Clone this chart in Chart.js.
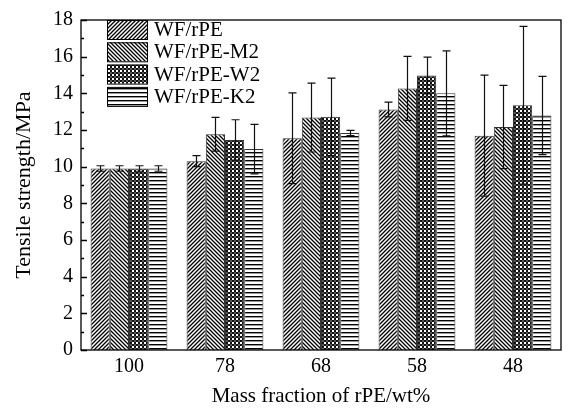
<!DOCTYPE html>
<html>
<head>
<meta charset="utf-8">
<script src="https://cdn.jsdelivr.net/npm/chart.js@4.4.1/dist/chart.umd.min.js"></script>
<style>
    html, body { margin: 0; padding: 0; background: #fff; }
    #wrap { width: 570px; height: 409px; }
</style>
</head>
<body>
<div id="wrap"><canvas id="tensileChart" width="570" height="409"></canvas></div>
<script>
const categories = ['100', '78', '68', '58', '48'];
const seriesNames = ['WF/rPE', 'WF/rPE-M2', 'WF/rPE-W2', 'WF/rPE-K2'];

const wfRpe = [9.9, 10.3, 11.55, 13.12, 11.69];
const wfRpeM2 = [9.9, 11.77, 12.68, 14.27, 12.16];
const wfRpeW2 = [9.9, 11.46, 12.72, 14.97, 13.35];
const wfRpeK2 = [9.9, 10.96, 11.84, 14.0, 12.79];

const wfRpeErr = [0.15, 0.3, 2.47, 0.4, 3.3];
const wfRpeM2Err = [0.15, 0.92, 1.88, 1.75, 2.27];
const wfRpeW2Err = [0.15, 1.1, 2.11, 1.0, 4.3];
const wfRpeK2Err = [0.15, 1.35, 0.14, 2.32, 2.13];

const yTicks = [0, 2, 4, 6, 8, 10, 12, 14, 16, 18];

const serif = "'Liberation Serif', 'DejaVu Serif', serif";

// hatch fills
function makePattern(kind) {
    const c = document.createElement('canvas');
    c.width = 4;
    c.height = 4;
    const g = c.getContext('2d');
    g.fillStyle = '#fff';
    g.fillRect(0, 0, 4, 4);
    g.strokeStyle = '#000';
    g.fillStyle = '#000';
    g.lineWidth = 1.3;
    if (kind === 'fwd') {
        g.beginPath();
        g.moveTo(-1, 5); g.lineTo(5, -1);
        g.moveTo(-1, 1); g.lineTo(1, -1);
        g.moveTo(3, 5); g.lineTo(5, 3);
        g.stroke();
    } else if (kind === 'back') {
        g.beginPath();
        g.moveTo(-1, -1); g.lineTo(5, 5);
        g.moveTo(3, -1); g.lineTo(5, 1);
        g.moveTo(-1, 3); g.lineTo(1, 5);
        g.stroke();
    } else if (kind === 'dots') {
        g.fillStyle = '#111';
        g.fillRect(0, 0, 2, 2);
        g.fillRect(2, 2, 2, 2);
        g.fillStyle = '#555';
        g.fillRect(2, 0, 2, 2);
    } else {
        g.fillRect(0, 0, 4, 1.4);
    }
    return g.createPattern(c, 'repeat');
}

const errorSets = [wfRpeErr, wfRpeM2Err, wfRpeW2Err, wfRpeK2Err];

const errorBarPlugin = {
    id: 'errorBars',
    afterDatasetsDraw(chart) {
        const ctx = chart.ctx;
        const y = chart.scales.y;
        ctx.save();
        ctx.strokeStyle = '#111';
        ctx.lineWidth = 1.2;
        chart.data.datasets.forEach((ds, i) => {
            const meta = chart.getDatasetMeta(i);
            meta.data.forEach((bar, j) => {
                const v = ds.data[j];
                const e = errorSets[i][j];
                const yt = y.getPixelForValue(v + e);
                const yb = y.getPixelForValue(v - e);
                const x = Math.round(bar.x) + 0.5;
                ctx.beginPath();
                ctx.moveTo(x, yt); ctx.lineTo(x, yb);
                ctx.moveTo(x - 4, yt); ctx.lineTo(x + 4, yt);
                ctx.moveTo(x - 4, yb); ctx.lineTo(x + 4, yb);
                ctx.stroke();
            });
        });
        ctx.restore();
    }
};

const frameAndLegendPlugin = {
    id: 'frameAndLegend',
    afterDraw(chart) {
        const ctx = chart.ctx;
        const a = chart.chartArea;
        const y = chart.scales.y;
        ctx.save();
        ctx.strokeStyle = '#000';
        ctx.lineWidth = 1.3;
        ctx.strokeRect(a.left, a.top, a.right - a.left, a.bottom - a.top);
        // inward ticks on the left axis
        ctx.beginPath();
        for (let v = 0; v <= 18; v++) {
            const py = Math.round(y.getPixelForValue(v)) + 0.5;
            const len = v % 2 === 0 ? 6 : 3;
            ctx.moveTo(a.left, py);
            ctx.lineTo(a.left + len, py);
        }
        ctx.stroke();

        // legend inside plot
        const lx = 107, ly = 20, bw = 40, bh = 19, gap = 22.3;
        ctx.font = '21px ' + serif;
        ctx.textBaseline = 'middle';
        ctx.textAlign = 'left';
        chart.data.datasets.forEach((ds, i) => {
            const top = ly + i * gap;
            ctx.fillStyle = ds.backgroundColor;
            ctx.fillRect(lx, top, bw, bh);
            ctx.lineWidth = 1;
            ctx.strokeStyle = '#000';
            ctx.strokeRect(lx + 0.5, top + 0.5, bw, bh);
            ctx.fillStyle = '#000';
            ctx.fillText(ds.label, lx + 47, top + bh / 2 + 1);
        });
        ctx.restore();
    }
};

const seriesValues = [wfRpe, wfRpeM2, wfRpeW2, wfRpeK2];
const fills = ['fwd', 'back', 'dots', 'horiz'];

new Chart(document.getElementById('tensileChart'), {
    type: 'bar',
    data: {
        labels: categories,
        datasets: seriesValues.map((vals, i) => ({
            label: seriesNames[i],
            data: vals,
            backgroundColor: makePattern(fills[i]),
            borderColor: '#333',
            borderWidth: 1,
            categoryPercentage: 0.8,
            barPercentage: 1.0
        }))
    },
    options: {
        responsive: false,
        animation: false,
        layout: { padding: { top: 17, right: 9, left: 0, bottom: 0 } },
        plugins: {
            legend: { display: false },
            tooltip: { enabled: false }
        },
        scales: {
            x: {
                grid: { display: false, drawTicks: false },
                border: { display: false },
                ticks: {
                    color: '#000',
                    padding: 5,
                    font: { family: serif, size: 20 }
                },
                title: {
                    display: true,
                    text: 'Mass fraction of rPE/wt%',
                    color: '#000',
                    font: { family: serif, size: 21 },
                    padding: { top: 9, bottom: 0 }
                },
                afterFit(scale) { scale.height = 59; }
            },
            y: {
                min: 0,
                max: 18,
                afterBuildTicks(scale) {
                    scale.ticks = yTicks.map(v => ({ value: v }));
                },
                grid: { display: false, drawTicks: false },
                border: { display: false },
                ticks: {
                    color: '#000',
                    padding: 8,
                    font: { family: serif, size: 20 }
                },
                title: {
                    display: true,
                    text: 'Tensile strength/MPa',
                    color: '#000',
                    font: { family: serif, size: 22 },
                    padding: { top: 11, bottom: 0 }
                },
                afterFit(scale) { scale.width = 81; }
            }
        }
    },
    plugins: [errorBarPlugin, frameAndLegendPlugin]
});
</script>
</body>
</html>
